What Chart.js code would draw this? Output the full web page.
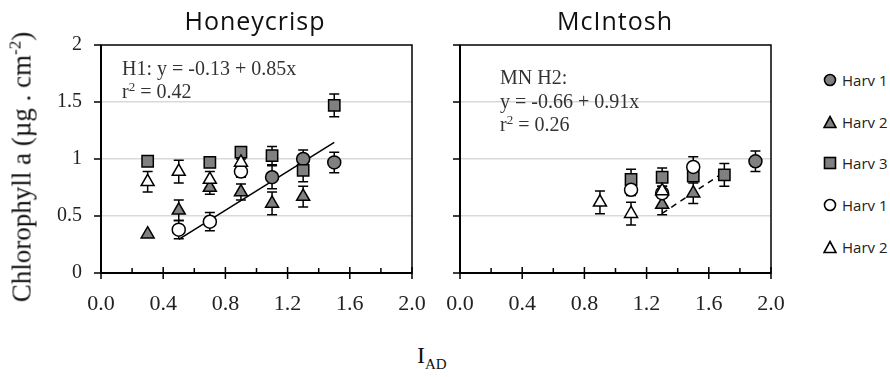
<!DOCTYPE html>
<html>
<head>
<meta charset="utf-8">
<script src="https://cdn.jsdelivr.net/npm/chart.js@4.4.1/dist/chart.umd.min.js"></script>
<style>
    body { margin: 0; width: 890px; height: 377px; background: #fff; position: relative; overflow: hidden; font-family: 'Liberation Serif', serif; color: #222; }
    canvas { position: absolute; top: 0; }
    #hcChart { left: 0; }
    #mcChart { left: 420px; }
    .panel-title { position: absolute; top: 8px; font-family: 'Open Sans', sans-serif; font-size: 25px; line-height: 25px; letter-spacing: 1px; color: #111; transform: translateX(-50%); white-space: nowrap; }
    .note { position: absolute; font-size: 20px; line-height: 20px; color: #333; white-space: nowrap; }
    .note sup { font-size: 13px; vertical-align: 7px; line-height: 0; }
    #yTitle { position: absolute; left: 22px; top: 167px; font-size: 27px; line-height: 27px; white-space: nowrap; transform: translate(-50%, -50%) rotate(-90deg); color: #111; }
    #yTitle sup { font-size: 17px; vertical-align: 10px; line-height: 0; }
    #xTitle { position: absolute; left: 417px; top: 343px; font-size: 24px; line-height: 24px; color: #111; white-space: nowrap; }
    #xTitle sub { font-size: 15px; vertical-align: -6px; line-height: 0; }
    .legend-row { position: absolute; left: 823px; height: 20px; display: flex; align-items: center; font-family: 'Open Sans', sans-serif; font-size: 15px; color: #222; }
    .legend-row svg { margin-right: 5px; }
</style>
</head>
<body>
<canvas id="hcChart" width="430" height="330"></canvas>
<canvas id="mcChart" width="370" height="330"></canvas>

<div class="panel-title" style="left:255px;">Honeycrisp</div>
<div class="panel-title" style="left:615px;">McIntosh</div>

<div class="note" style="left:122px; top:58px;">H1: y = -0.13 + 0.85x</div>
<div class="note" style="left:122px; top:81px;">r<sup>2</sup> = 0.42</div>
<div class="note" style="left:500px; top:67px;">MN H2:</div>
<div class="note" style="left:500px; top:91px;">y = -0.66 + 0.91x</div>
<div class="note" style="left:500px; top:114px;">r<sup>2</sup> = 0.26</div>

<div id="yTitle">Chlorophyll a (µg . cm<sup>-2</sup>)</div>
<div id="xTitle">I<sub>AD</sub></div>

<div id="legend"></div>

<script>
// axes
const xRange = [0, 2];
const xStep = 0.2;
const yRange = [0, 2];
const yStep = 0.5;

const seriesLabels = ['Harv 1', 'Harv 2', 'Harv 3', 'Harv 1', 'Harv 2'];

// Honeycrisp
const hcHarv1X = [1.1, 1.3, 1.5];
const hcHarv1Y = [0.84, 1.0, 0.97];
const hcHarv1Err = [0.1, 0.08, 0.09];
const hcHarv2X = [0.3, 0.5, 0.7, 0.9, 1.1, 1.3];
const hcHarv2Y = [0.34, 0.55, 0.75, 0.71, 0.61, 0.67];
const hcHarv2Err = [0, 0.09, 0.06, 0.07, 0.1, 0.09];
const hcHarv3X = [0.3, 0.7, 0.9, 1.1, 1.3, 1.5];
const hcHarv3Y = [0.98, 0.97, 1.06, 1.03, 0.90, 1.47];
const hcHarv3Err = [0.02, 0.02, 0.03, 0.08, 0.1, 0.1];
const hcOpen1X = [0.5, 0.7, 0.9];
const hcOpen1Y = [0.38, 0.45, 0.89];
const hcOpen1Err = [0.08, 0.08, 0.05];
const hcOpen2X = [0.3, 0.5, 0.7, 0.9];
const hcOpen2Y = [0.80, 0.89, 0.82, 0.97];
const hcOpen2Err = [0.09, 0.1, 0.07, 0.03];
const hcFitCoef = [-0.13, 0.85];
const hcFitRange = [0.5, 1.5];

// McIntosh
const mcHarv1X = [1.9];
const mcHarv1Y = [0.98];
const mcHarv1Err = [0.09];
const mcHarv2X = [1.3, 1.5];
const mcHarv2Y = [0.60, 0.70];
const mcHarv2Err = [0.09, 0.09];
const mcHarv3X = [1.1, 1.3, 1.5, 1.7];
const mcHarv3Y = [0.82, 0.84, 0.85, 0.86];
const mcHarv3Err = [0.09, 0.08, 0.04, 0.1];
const mcOpen1X = [1.1, 1.3, 1.5];
const mcOpen1Y = [0.73, 0.70, 0.93];
const mcOpen1Err = [0.05, 0.04, 0.09];
const mcOpen2X = [0.9, 1.1, 1.3];
const mcOpen2Y = [0.62, 0.52, 0.72];
const mcOpen2Err = [0.1, 0.1, 0.04];
const mcFitCoef = [-0.66, 0.91];
const mcFitRange = [1.3, 1.7];

const GRAY = '#808080';
const seriesStyles = [
    { shape: 'circle', fill: GRAY, radius: 6.5 },
    { shape: 'triangle', fill: GRAY, radius: 7.5 },
    { shape: 'rect', fill: GRAY, radius: 8 },
    { shape: 'circle', fill: '#fff', radius: 6.5 },
    { shape: 'triangle', fill: '#fff', radius: 7.5 }
];

function toPoints(xs, ys) {
    return xs.map((x, i) => ({ x: x, y: ys[i] }));
}

function fitPoints(coef, range) {
    return range.map(x => ({ x: x, y: coef[0] + coef[1] * x }));
}

function seriesDataset(i, xs, ys, errs) {
    const st = seriesStyles[i];
    return {
        label: seriesLabels[i],
        data: toPoints(xs, ys),
        errors: errs,
        pointStyle: st.shape,
        pointRadius: st.radius,
        pointBackgroundColor: st.fill,
        pointBorderColor: '#000',
        pointBorderWidth: 1.5,
        showLine: false,
        order: 5 - i
    };
}

// vertical error bars with caps, under the markers
const errorBars = {
    id: 'errorBars',
    beforeDatasetsDraw(chart) {
        const ctx = chart.ctx;
        const xs = chart.scales.x, ys = chart.scales.y;
        ctx.save();
        ctx.strokeStyle = '#000';
        ctx.lineWidth = 1.5;
        chart.data.datasets.forEach(ds => {
            if (!ds.errors) return;
            ds.data.forEach((p, i) => {
                const e = ds.errors[i];
                if (!e) return;
                const px = xs.getPixelForValue(p.x);
                const top = ys.getPixelForValue(p.y + e);
                const bot = ys.getPixelForValue(p.y - e);
                ctx.beginPath();
                ctx.moveTo(px, top); ctx.lineTo(px, bot);
                ctx.moveTo(px - 5, top); ctx.lineTo(px + 5, top);
                ctx.moveTo(px - 5, bot); ctx.lineTo(px + 5, bot);
                ctx.stroke();
            });
        });
        ctx.restore();
    }
};

// box around the plot plus tick marks
const frame = {
    id: 'frame',
    beforeDatasetsDraw(chart) {
        const ctx = chart.ctx;
        const a = chart.chartArea;
        const xs = chart.scales.x, ys = chart.scales.y;
        ctx.save();
        ctx.strokeStyle = '#000';
        ctx.lineWidth = 1.5;
        ctx.strokeRect(a.left, a.top, a.right - a.left, a.bottom - a.top);
        ctx.lineWidth = 2;
        ctx.beginPath();
        ctx.moveTo(a.left, a.bottom); ctx.lineTo(a.right, a.bottom);
        ctx.moveTo(a.left, a.top); ctx.lineTo(a.left, a.bottom);
        ctx.stroke();
        ctx.lineWidth = 1.5;
        ctx.beginPath();
        xs.ticks.forEach((t, i) => {
            const px = xs.getPixelForTick(i);
            if (i % 2 === 0) {
                ctx.moveTo(px, a.bottom - 6); ctx.lineTo(px, a.bottom + 6);
            } else {
                ctx.moveTo(px, a.bottom - 5); ctx.lineTo(px, a.bottom);
            }
        });
        ys.ticks.forEach((t, i) => {
            const py = ys.getPixelForTick(i);
            ctx.moveTo(a.left - 7, py); ctx.lineTo(a.left, py);
        });
        ctx.stroke();
        ctx.restore();
    }
};

function makeChart(id, datasets, showYLabels, yWidth, padRight) {
    return new Chart(document.getElementById(id), {
        type: 'scatter',
        data: { datasets: datasets },
        options: {
            responsive: false,
            animation: false,
            layout: { padding: { left: 0, top: 45, right: padRight, bottom: 0 } },
            plugins: {
                legend: { display: false },
                tooltip: { enabled: false }
            },
            scales: {
                x: {
                    type: 'linear',
                    min: xRange[0],
                    max: xRange[1],
                    border: { display: false },
                    grid: { display: false, drawTicks: false },
                    ticks: {
                        stepSize: xStep,
                        autoSkip: false,
                        maxRotation: 0,
                        padding: 18,
                        color: '#222',
                        font: { family: 'Liberation Serif', size: 22 },
                        callback: (v, i) => i % 2 === 0 ? v.toFixed(1) : ''
                    },
                    afterFit: scale => {
                        // keep the end labels from pulling the plot inward
                        scale.height = 57;
                        scale.paddingLeft = 0;
                        scale.paddingRight = 0;
                    }
                },
                y: {
                    min: yRange[0],
                    max: yRange[1],
                    border: { display: false },
                    grid: {
                        drawTicks: false,
                        lineWidth: 1.5,
                        color: c => (c.tick.value === yRange[0] || c.tick.value === yRange[1]) ? 'rgba(0,0,0,0)' : '#d9d9d9'
                    },
                    ticks: {
                        display: showYLabels,
                        stepSize: yStep,
                        padding: 19,
                        color: '#222',
                        font: { family: 'Liberation Serif', size: 20 },
                        callback: v => String(v)
                    },
                    afterFit: scale => {
                        scale.width = yWidth;
                        scale.paddingTop = 0;
                        scale.paddingBottom = 0;
                    }
                }
            }
        },
        plugins: [frame, errorBars]
    });
}

function fitDataset(coef, range, dash) {
    return {
        type: 'line',
        data: fitPoints(coef, range),
        borderColor: '#000',
        borderWidth: 1.5,
        borderDash: dash,
        pointRadius: 0,
        fill: false,
        order: 10
    };
}

makeChart('hcChart', [
    seriesDataset(0, hcHarv1X, hcHarv1Y, hcHarv1Err),
    seriesDataset(1, hcHarv2X, hcHarv2Y, hcHarv2Err),
    seriesDataset(2, hcHarv3X, hcHarv3Y, hcHarv3Err),
    seriesDataset(3, hcOpen1X, hcOpen1Y, hcOpen1Err),
    seriesDataset(4, hcOpen2X, hcOpen2Y, hcOpen2Err),
    fitDataset(hcFitCoef, hcFitRange, [])
], true, 101, 18);

makeChart('mcChart', [
    seriesDataset(0, mcHarv1X, mcHarv1Y, mcHarv1Err),
    seriesDataset(1, mcHarv2X, mcHarv2Y, mcHarv2Err),
    seriesDataset(2, mcHarv3X, mcHarv3Y, mcHarv3Err),
    seriesDataset(3, mcOpen1X, mcOpen1Y, mcOpen1Err),
    seriesDataset(4, mcOpen2X, mcOpen2Y, mcOpen2Err),
    fitDataset(mcFitCoef, mcFitRange, [6, 5])
], false, 40, 19);

// legend on the right
function markerSvg(st) {
    let shape;
    if (st.shape === 'circle') shape = `<circle cx="7" cy="7" r="5.5" />`;
    else if (st.shape === 'triangle') shape = `<polygon points="7,1.5 13,12.5 1,12.5" />`;
    else shape = `<rect x="1.5" y="1.5" width="11" height="11" />`;
    return `<svg width="14" height="14" fill="${st.fill}" stroke="#000" stroke-width="1.6">${shape}</svg>`;
}

const legendRowsTop = [70, 112, 153, 195, 237];
document.getElementById('legend').innerHTML = seriesLabels.map((label, i) => `
    <div class="legend-row" style="top:${legendRowsTop[i]}px;">
        ${markerSvg(seriesStyles[i])}<span>${label}</span>
    </div>
`).join('');
</script>
</body>
</html>
